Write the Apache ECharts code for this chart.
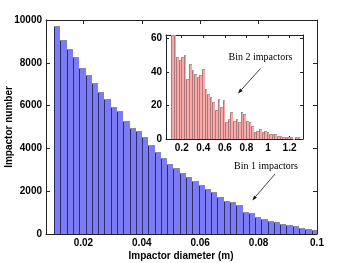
<!DOCTYPE html>
<html>
<head>
<meta charset="utf-8">
<script src="https://cdn.jsdelivr.net/npm/echarts@6/dist/echarts.min.js"></script>
<style>
html,body{margin:0;padding:0;background:#fff;}
#c{width:350px;height:263px;}
</style>
</head>
<body>
<div id="c"></div>
<script>
// ---- Data ----
// Bin 1 (main histogram): diameters 0.01 .. 0.1 m
const mainBinStart = 0.01;
const mainBinWidth = 0.00215;
const mainCounts = [9705, 9050, 8660, 8287, 7773, 7446, 7072, 6620, 6309, 5950,
  5733, 5266, 4953, 4800, 4510, 4170, 3830, 3545, 3280, 3070,
  2865, 2678, 2463, 2290, 2117, 1963, 1743, 1542, 1509, 1350,
  1043, 966, 810, 701, 623, 545, 483, 420, 374, 296,
  249, 187];
// Bin 2 (inset histogram): diameters 0.1 .. 1.3 m
const insetBinStart = 0.1;
const insetBinWidth = 0.024;
const insetCounts = [66, 66, 49, 47, 49, 50, 36, 45, 41, 39,
  37, 38, 42, 30, 27, 25, 22, 17, 24, 19,
  23, 10, 12, 16, 11, 12, 10, 16, 15, 11,
  10, 8, 4, 5, 6, 4, 5, 4, 3, 3,
  3, 2, 2, 1, 1, 1, 1, 0, 1, 1];
const mainXTicks = [0.02, 0.04, 0.06, 0.08, 0.1];
const mainYTicks = [0, 2000, 4000, 6000, 8000, 10000];
const insetXTicks = [0.2, 0.4, 0.6, 0.8, 1, 1.2];
const insetYTicks = [0, 20, 40, 60];

const xTitle = 'Impactor diameter (m)';
const yTitle = 'Impactor number';
const bin1Label = 'Bin 1 impactors';
const bin2Label = 'Bin 2 impactors';

// ---- Build ----
function bins(start, width, counts) {
  return counts.map((c, i) => [start + i * width, start + (i + 1) * width, c]);
}
function barRenderer(fill, edge, topEdge) {
  return function (params, api) {
    const cs = params.coordSys;
    const p0 = api.coord([api.value(0), 0]);
    const p1 = api.coord([api.value(1), api.value(2)]);
    const left = Math.round(p0[0]);
    let right = Math.min(Math.round(p1[0]), cs.x + cs.width);
    const bottom = Math.round(p0[1]);
    const top = Math.max(Math.round(p1[1]), cs.y);
    if (right <= left) return null;
    return {
      type: 'group',
      children: [
        { type: 'rect', shape: { x: left, y: top, width: right - left, height: bottom - top }, style: { fill: fill } },
        { type: 'line', shape: { x1: left + 0.5, y1: top, x2: left + 0.5, y2: bottom }, style: { stroke: edge, lineWidth: 1 } },
        { type: 'line', shape: { x1: left, y1: top + 0.5, x2: right, y2: top + 0.5 }, style: { stroke: topEdge, lineWidth: 1 } }
      ]
    };
  };
}

const FONT = '"Liberation Sans", Arial, Helvetica, sans-serif';
const SERIF = '"Liberation Serif", "Times New Roman", serif';
const lineCol = '#222';
const fmt = v => String(v);

function xAx(grid, min, max, ticks, pos, showLabel, tickLen) {
  return {
    type: 'value', gridIndex: grid, position: pos, min: min, max: max,
    axisLine: { show: true, onZero: false, lineStyle: { color: lineCol, width: 1 } },
    axisTick: { show: true, inside: true, length: tickLen, customValues: ticks, lineStyle: { color: lineCol } },
    axisLabel: { show: showLabel, customValues: ticks, formatter: fmt, color: '#000', fontFamily: FONT, fontSize: 10, fontWeight: 'bold', margin: 4 },
    splitLine: { show: false }
  };
}
function yAx(grid, min, max, ticks, pos, showLabel, tickLen) {
  return {
    type: 'value', gridIndex: grid, position: pos, min: min, max: max,
    axisLine: { show: true, onZero: false, lineStyle: { color: lineCol, width: 1 } },
    axisTick: { show: true, inside: true, length: tickLen, customValues: ticks, lineStyle: { color: lineCol } },
    axisLabel: { show: showLabel, customValues: ticks, formatter: fmt, color: '#000', fontFamily: FONT, fontSize: 10, fontWeight: 'bold', margin: 4 },
    splitLine: { show: false }
  };
}

function arrow(x1, y1, x2, y2) {
  const dx = x2 - x1, dy = y2 - y1, L = Math.hypot(dx, dy);
  const ux = dx / L, uy = dy / L, px = -uy, py = ux;
  const hl = 5, hw = 1.8;
  const bx = x2 - ux * hl, by = y2 - uy * hl;
  return [
    { type: 'line', shape: { x1: x1, y1: y1, x2: bx, y2: by }, style: { stroke: '#111', lineWidth: 0.8 } },
    { type: 'polygon', shape: { points: [[x2, y2], [bx + px * hw, by + py * hw], [bx - px * hw, by - py * hw]] }, style: { fill: '#111' } }
  ];
}

const chart = echarts.init(document.getElementById('c'), null, { renderer: 'canvas' });
chart.setOption({
  animation: false,
  backgroundColor: '#fff',
  grid: [
    { left: 46, top: 20, width: 271, height: 214 },
    { left: 166, top: 35, width: 137, height: 104 }
  ],
  xAxis: [
    xAx(0, 0.0072, 0.1, mainXTicks, 'bottom', true, 4),
    xAx(0, 0.0072, 0.1, mainXTicks, 'top', false, 4),
    xAx(1, 0.054, 1.325, insetXTicks, 'bottom', true, 3),
    xAx(1, 0.054, 1.325, insetXTicks, 'top', false, 3)
  ],
  yAxis: [
    yAx(0, 0, 10000, mainYTicks, 'left', true, 4),
    yAx(0, 0, 10000, mainYTicks, 'right', false, 4),
    yAx(1, 0, 62, insetYTicks, 'left', true, 3),
    yAx(1, 0, 62, insetYTicks, 'right', false, 3)
  ],
  series: [
    {
      type: 'custom', name: 'Bin 1', xAxisIndex: 0, yAxisIndex: 0,
      renderItem: barRenderer('#7b7bf6', '#2d2d66', '#8a8a9a'),
      encode: { x: [0, 1], y: 2 },
      data: bins(mainBinStart, mainBinWidth, mainCounts),
      z: 2
    },
    {
      type: 'custom', name: 'Bin 2', xAxisIndex: 2, yAxisIndex: 2,
      renderItem: barRenderer('#f8aaaa', '#b07878', '#a89898'),
      encode: { x: [0, 1], y: 2 },
      data: bins(insetBinStart, insetBinWidth, insetCounts),
      z: 2
    }
  ],
  graphic: [
    { type: 'text', x: 9, y: 127, rotation: Math.PI / 2, style: { text: yTitle, font: 'bold 10px ' + FONT, fill: '#000', align: 'center', verticalAlign: 'middle' } },
    { type: 'text', x: 181, y: 256, style: { text: xTitle, font: 'bold 10px ' + FONT, fill: '#000', align: 'center', verticalAlign: 'middle' } },
    { type: 'text', x: 260.5, y: 57, style: { text: bin2Label, font: '10px ' + SERIF, fill: '#000', align: 'center', verticalAlign: 'middle' } },
    { type: 'text', x: 266, y: 166, style: { text: bin1Label, font: '10px ' + SERIF, fill: '#000', align: 'center', verticalAlign: 'middle' } }
  ].concat(arrow(260.5, 68.5, 238, 93.5)).concat(arrow(275, 174, 252.3, 200.5))
});
</script>
</body>
</html>
